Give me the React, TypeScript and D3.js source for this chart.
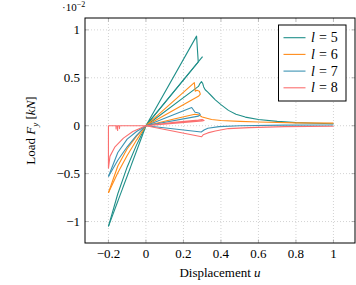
import React, { useRef, useEffect } from 'react';
import * as d3 from 'd3';

type Pt = [number, number];

// values of y are in units of 1e-2 kN
const xTicks = [-0.2, 0, 0.2, 0.4, 0.6, 0.8, 1];
const yTicks = [-1, -0.5, 0, 0.5, 1];

const seriesNames = ['5', '6', '7', '8'];
const seriesColors = ['#1f8f89', '#ff8c1a', '#3d93b3', '#fb6f6f'];

// l = 5
const l5NegA: Pt[] = [[0, 0], [-0.2, -1.05]];
const l5NegB: Pt[] = [[0, 0], [-0.05, -0.2], [-0.1, -0.43], [-0.15, -0.71], [-0.2, -1.05]];
const l5PosA: Pt[] = [[0, 0], [0.27, 0.935], [0.279, 0.665], [0, 0]];
const l5PosB: Pt[] = [[0, 0], [0.302, 0.72]];
const l5PosC: Pt[] = [[0, 0], [0.28, 0.41], [0.288, 0.44], [0.296, 0.46], [0.303, 0.44], [0.308, 0.405],
  [0.316, 0.375], [0.33, 0.35], [0.35, 0.31], [0.37, 0.27], [0.4, 0.22], [0.44, 0.16], [0.48, 0.12],
  [0.53, 0.09], [0.6, 0.065], [0.7, 0.045], [0.8, 0.032], [0.9, 0.025], [1, 0.02]];

// l = 6
const l6NegA: Pt[] = [[0, 0], [-0.05, -0.15], [-0.1, -0.31], [-0.15, -0.49], [-0.2, -0.70]];
const l6NegB: Pt[] = [[0, 0], [-0.05, -0.11], [-0.1, -0.24], [-0.15, -0.42], [-0.2, -0.70]];
const l6PosA: Pt[] = [[0, 0], [0.258, 0.45], [0.263, 0.36], [0.272, 0.37], [0.285, 0.36], [0.29, 0.33],
  [0.282, 0.31], [0, 0]];
const l6PosB: Pt[] = [[0, 0], [0.15, 0.07], [0.26, 0.12], [0.28, 0.115], [0.3, 0.09], [0.35, 0.065],
  [0.4, 0.055], [0.5, 0.045], [0.6, 0.038], [0.8, 0.03], [1, 0.027]];

// l = 7
const l7NegA: Pt[] = [[0, 0], [-0.05, -0.1], [-0.1, -0.22], [-0.15, -0.36], [-0.2, -0.53]];
const l7NegB: Pt[] = [[0, 0], [-0.05, -0.06], [-0.1, -0.14], [-0.15, -0.28], [-0.2, -0.53]];
const l7PosA: Pt[] = [[0, 0], [0.244, 0.19], [0.262, 0.14], [0.275, 0.135], [0.285, 0.13], [0.29, 0.115],
  [0.28, 0.1], [0, 0]];
const l7PosB: Pt[] = [[0, 0], [0.295, -0.065], [0.31, -0.045], [0.33, -0.027], [0.39, -0.01], [0.5, 0],
  [0.74, 0.006], [1, 0.008]];

// l = 8
const l8NegA: Pt[] = [[0, 0], [-0.14, 0], [-0.141, -0.03], [-0.142, 0], [-0.15, 0], [-0.151, -0.05],
  [-0.152, 0], [-0.158, 0], [-0.159, -0.035], [-0.16, 0], [-0.2, 0], [-0.2, -0.445]];
const l8NegB: Pt[] = [[-0.2, -0.445], [-0.192, -0.32], [-0.165, -0.22], [-0.12, -0.13], [-0.07, -0.06], [0, 0]];
const l8PosA: Pt[] = [[0, 0], [0.15, 0.035], [0.28, 0.06], [0.3, 0.065], [0.31, 0.055], [0.3, 0.05], [0, 0]];
const l8PosB: Pt[] = [[0, 0], [0.297, -0.115], [0.305, -0.095], [0.33, -0.075], [0.37, -0.055], [0.44, -0.03],
  [0.55, -0.02], [0.74, -0.01], [1, -0.005]];

const seriesPaths: Pt[][][] = [
  [l5NegA, l5NegB, l5PosA, l5PosB, l5PosC],
  [l6NegA, l6NegB, l6PosA, l6PosB],
  [l7NegA, l7NegB, l7PosA, l7PosB],
  [l8NegA, l8NegB, l8PosA, l8PosB],
];

const fmt = (v: number) => (v < 0 ? '\u2212' + Math.abs(v) : String(v));

const App = () => {
  const ref = useRef<SVGSVGElement>(null);
  const width = 356;
  const height = 285;

  useEffect(() => {
    const margin = { top: 18, right: 1, bottom: 42, left: 85 };
    const svg = d3.select(ref.current);
    svg.selectAll('*').remove();

    const font = '"Liberation Serif", serif';

    const x = d3.scaleLinear().domain([-0.325, 1.115]).range([margin.left, width - margin.right]);
    const y = d3.scaleLinear().domain([-1.224, 1.124]).range([height - margin.bottom, margin.top]);
    const [x0, x1] = x.range();
    const [y0, y1] = y.range();

    // grid
    const grid = svg.append('g')
      .attr('stroke', '#c8c8c8')
      .attr('stroke-width', 0.8)
      .attr('stroke-dasharray', '1,2');
    grid.selectAll('line.gx').data(xTicks).join('line')
      .attr('class', 'gx')
      .attr('x1', d => x(d)).attr('x2', d => x(d)).attr('y1', y1).attr('y2', y0);
    grid.selectAll('line.gy').data(yTicks).join('line')
      .attr('class', 'gy')
      .attr('y1', d => y(d)).attr('y2', d => y(d)).attr('x1', x0).attr('x2', x1);

    // ticks inside on all sides
    const ticks = svg.append('g').attr('stroke', '#8a8a8a').attr('stroke-width', 0.6);
    xTicks.forEach(t => {
      ticks.append('line').attr('x1', x(t)).attr('x2', x(t)).attr('y1', y0).attr('y2', y0 - 3.5);
      ticks.append('line').attr('x1', x(t)).attr('x2', x(t)).attr('y1', y1).attr('y2', y1 + 3.5);
    });
    yTicks.forEach(t => {
      ticks.append('line').attr('y1', y(t)).attr('y2', y(t)).attr('x1', x0).attr('x2', x0 + 3.5);
      ticks.append('line').attr('y1', y(t)).attr('y2', y(t)).attr('x1', x1).attr('x2', x1 - 3.5);
    });

    // curves
    const line = d3.line<Pt>().x(d => x(d[0])).y(d => y(d[1]));
    const curves = svg.append('g')
      .attr('fill', 'none')
      .attr('stroke-width', 1.1)
      .attr('stroke-linejoin', 'round');
    seriesPaths.forEach((paths, i) => {
      curves.append('g')
        .attr('stroke', seriesColors[i])
        .selectAll('path')
        .data(paths)
        .join('path')
        .attr('d', d => line(d));
    });

    // frame
    svg.append('rect')
      .attr('x', x0).attr('y', y1)
      .attr('width', x1 - x0).attr('height', y0 - y1)
      .attr('fill', 'none').attr('stroke', '#000').attr('stroke-width', 1);

    // tick labels
    svg.append('g')
      .selectAll('text')
      .data(xTicks)
      .join('text')
      .attr('x', d => x(d))
      .attr('y', y0 + 15)
      .attr('text-anchor', 'middle')
      .attr('font-family', font)
      .attr('font-size', 13)
      .text(d => fmt(d));

    svg.append('g')
      .selectAll('text')
      .data(yTicks)
      .join('text')
      .attr('x', x0 - 5)
      .attr('y', d => y(d) + 4.5)
      .attr('text-anchor', 'end')
      .attr('font-family', font)
      .attr('font-size', 13)
      .text(d => fmt(d));

    // scale factor
    const sf = svg.append('text').attr('x', 62).attr('y', 11)
      .attr('font-family', font).attr('font-size', 11);
    sf.append('tspan').text('\u00b710');
    sf.append('tspan').attr('dy', -4).attr('font-size', 8).text('\u22122');

    // axis labels
    const xl = svg.append('text')
      .attr('x', (x0 + x1) / 2)
      .attr('y', y0 + 34)
      .attr('text-anchor', 'middle')
      .attr('font-family', font)
      .attr('font-size', 13);
    xl.append('tspan').text('Displacement ');
    xl.append('tspan').attr('font-style', 'italic').text('u');

    const yl = svg.append('text')
      .attr('transform', `translate(35,${(y0 + y1) / 2}) rotate(-90)`)
      .attr('text-anchor', 'middle')
      .attr('font-family', font)
      .attr('font-size', 13);
    yl.append('tspan').text('Load ');
    yl.append('tspan').attr('font-style', 'italic').text('F');
    yl.append('tspan').attr('font-style', 'italic').attr('font-size', 9).attr('dy', 3).text('y');
    yl.append('tspan').attr('dy', -3).text(' [');
    yl.append('tspan').attr('font-style', 'italic').text('kN');
    yl.append('tspan').text(']');

    // legend
    const lg = svg.append('g');
    lg.append('rect')
      .attr('x', 278.5).attr('y', 25)
      .attr('width', 67.5).attr('height', 76)
      .attr('fill', '#fff').attr('stroke', '#000').attr('stroke-width', 1);
    seriesNames.forEach((name, i) => {
      const cy = 37.7 + i * 16.7;
      lg.append('line')
        .attr('x1', 283.5).attr('x2', 305.5)
        .attr('y1', cy).attr('y2', cy)
        .attr('stroke', seriesColors[i]).attr('stroke-width', 1.1);
      const t = lg.append('text')
        .attr('x', 311).attr('y', cy + 4.5)
        .attr('font-family', font).attr('font-size', 14);
      t.append('tspan').attr('font-style', 'italic').text('l');
      t.append('tspan').attr('dx', 4).text('=');
      t.append('tspan').attr('dx', 4).text(name);
    });
  }, []);

  return (
    <svg ref={ref} width={width} height={height}
      style={{ position: 'absolute', left: 0, top: 0, background: '#fff' }} />
  );
};

export default App;
